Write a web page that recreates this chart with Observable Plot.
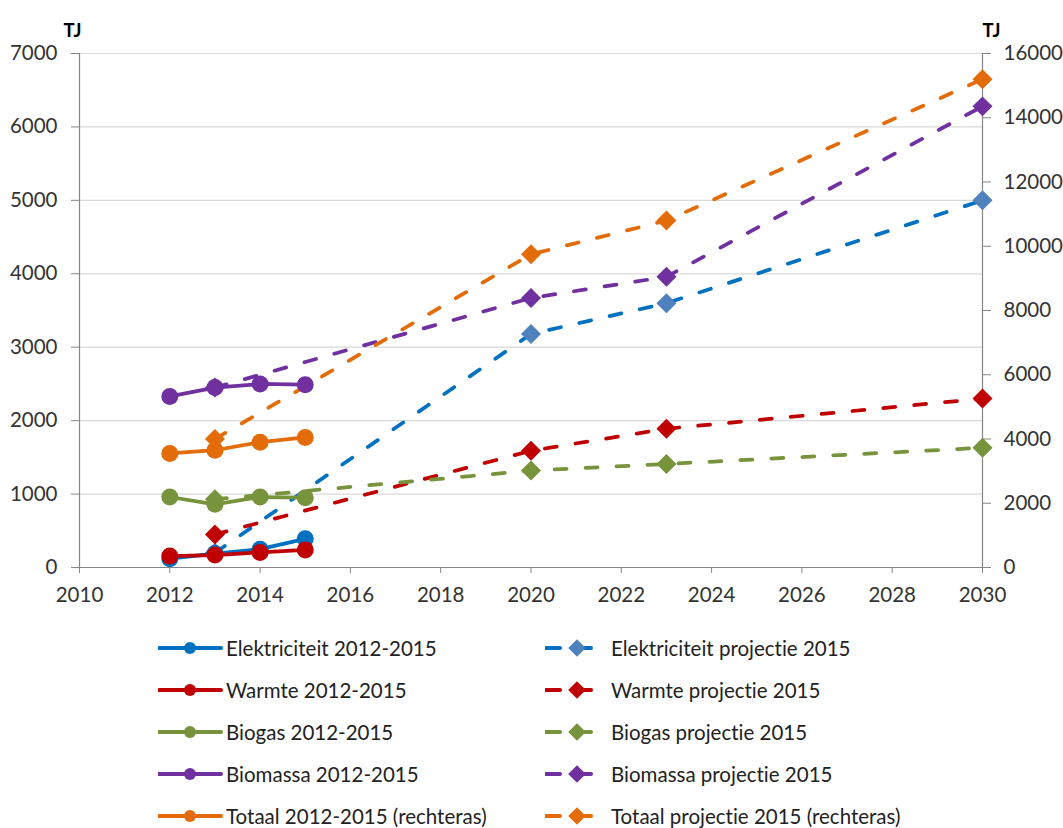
<!DOCTYPE html>
<html>
<head>
<meta charset="utf-8">
<script src="https://cdn.jsdelivr.net/npm/d3@7"></script>
<script src="https://cdn.jsdelivr.net/npm/@observablehq/plot@0.6"></script>
<style>
  body { margin: 0; background: #fff; font-family: Lato, "Open Sans", sans-serif; }
  #wrap { position: relative; width: 1063px; height: 828px; overflow: hidden;
          font-variant-ligatures: none; font-feature-settings: "liga" 0, "clig" 0, "dlig" 0; }
  #wrap svg.chart { position: absolute; left: 0; top: 0; }
  .leg { position: absolute; display: flex; align-items: center; height: 42px;
         font-size: 20.5px; color: #222; white-space: nowrap; }
  .leg svg { display: block; flex: none; }
</style>
</head>
<body>
<div id="wrap"></div>
<script>
// Realised values 2012–2015 (TJ)
const years = [2012, 2013, 2014, 2015];
const elektriciteit = [120, 190, 250, 390];
const warmte = [155, 170, 205, 240];
const biogas = [960, 860, 960, 950];
const biomassa = [2330, 2450, 2500, 2490];
const totaal = [3550, 3650, 3900, 4050];          // right-hand axis

// Projection 2015 (TJ)
const projYears = [2013, 2020, 2023, 2030];
const elektriciteitProj = [200, 3180, 3600, 5000];
const warmteProj = [450, 1590, 1890, 2300];
const biogasProj = [930, 1320, 1410, 1630];
const biomassaProj = [2450, 3670, 3960, 6280];
const totaalProj = [4000, 9750, 10800, 15200];    // right-hand axis

// Axes
const xTicks = [2010, 2012, 2014, 2016, 2018, 2020, 2022, 2024, 2026, 2028, 2030];
const leftTicks = [0, 1000, 2000, 3000, 4000, 5000, 6000, 7000];
const rightTicks = [0, 2000, 4000, 6000, 8000, 10000, 12000, 14000, 16000];
const leftMax = 7000, rightMax = 16000;
const K = leftMax / rightMax;            // right-axis units -> left-axis units
const toLeft = v => v * K;

const actualSeries = [
  {label: "Elektriciteit 2012-2015", values: elektriciteit, color: "#0070C0", right: false},
  {label: "Warmte 2012-2015", values: warmte, color: "#C00000", right: false},
  {label: "Biogas 2012-2015", values: biogas, color: "#77933C", right: false},
  {label: "Biomassa 2012-2015", values: biomassa, color: "#7030A0", right: false},
  {label: "Totaal 2012-2015 (rechteras)", values: totaal, color: "#E36C09", right: true}
];
const projSeries = [
  {label: "Elektriciteit projectie 2015", values: elektriciteitProj, color: "#0070C0", marker: "#4F81BD", right: false},
  {label: "Warmte projectie 2015", values: warmteProj, color: "#C00000", marker: "#C00000", right: false},
  {label: "Biogas projectie 2015", values: biogasProj, color: "#77933C", marker: "#77933C", right: false},
  {label: "Biomassa projectie 2015", values: biomassaProj, color: "#7030A0", marker: "#7030A0", right: false},
  {label: "Totaal projectie 2015 (rechteras)", values: totaalProj, color: "#E36C09", marker: "#E36C09", right: true}
];

const rows = (xs, s) => xs.map((x, i) => ({x, y: s.right ? toLeft(s.values[i]) : s.values[i]}));

const axisStyle = {fontSize: 20.5, stroke: "#868686", fill: "#333", label: null};
const marks = [
  Plot.gridY(leftTicks.filter(v => v > 0), {stroke: "#d9d9d9", strokeOpacity: 1, strokeWidth: 1.2}),
  Plot.ruleX([xTicks[0], xTicks[xTicks.length - 1]], {stroke: "#868686", strokeWidth: 1.2}),
  Plot.ruleY([0], {stroke: "#868686", strokeWidth: 1.2}),
  Plot.axisX(xTicks, {...axisStyle, tickSize: 6, tickPadding: 14, tickFormat: d => String(d)}),
  Plot.axisY(leftTicks, {...axisStyle, anchor: "left", tickSize: 8, tickPadding: 14, tickFormat: d => String(d)}),
  Plot.axisY(rightTicks.map(toLeft), {...axisStyle, anchor: "right", tickSize: 8, tickPadding: 13,
                         tickFormat: d => String(Math.round(d / K))}),
  Plot.text(["TJ"], {text: d => d, frameAnchor: "top-left", dx: -16, dy: -30, textAnchor: "start",
                     fontWeight: "bold", fontSize: 18.5, fill: "#000"}),
  Plot.text(["TJ"], {text: d => d, frameAnchor: "top-right", dx: 0, dy: -30, textAnchor: "start",
                     fontWeight: "bold", fontSize: 18.5, fill: "#000"})
];

// Projections underneath, dashed with diamond markers
for (const s of projSeries) {
  const data = rows(projYears, s);
  marks.push(Plot.line(data, {x: "x", y: "y", stroke: s.color, strokeWidth: 3.75,
                              strokeDasharray: "12,19", strokeLinecap: "round"}));
  marks.push(Plot.dot(data, {x: "x", y: "y", symbol: "diamond2", r: 9, fill: s.marker, stroke: "none"}));
}
// Realised series on top, solid with circle markers
for (const s of actualSeries) {
  const data = rows(years, s);
  marks.push(Plot.line(data, {x: "x", y: "y", stroke: s.color, strokeWidth: 3.75, strokeLinecap: "round"}));
  marks.push(Plot.dot(data, {x: "x", y: "y", r: 8.5, fill: s.color, stroke: "none"}));
}

const chart = Plot.plot({
  width: 1063,
  height: 615,
  marginTop: 53,
  marginBottom: 48,
  marginLeft: 79,
  marginRight: 81,
  x: {domain: [xTicks[0], xTicks[xTicks.length - 1]], label: null},
  y: {domain: [0, leftMax], label: null},
  style: {fontFamily: "Lato, 'Open Sans', sans-serif", background: "#fff", overflow: "visible"},
  marks
});
chart.classList.add("chart");
const wrap = document.getElementById("wrap");
wrap.appendChild(chart);

// Legend: two columns, five rows
const NS = "http://www.w3.org/2000/svg";
function el(tag, attrs) {
  const e = document.createElementNS(NS, tag);
  for (const k in attrs) e.setAttribute(k, attrs[k]);
  return e;
}
const rowTop = 627, rowStep = 42.1;
actualSeries.forEach((s, i) => {
  const item = document.createElement("div");
  item.className = "leg";
  item.style.left = "158px";
  item.style.top = (rowTop + i * rowStep) + "px";
  const sw = el("svg", {width: 68, height: 20});
  sw.appendChild(el("line", {x1: 1, x2: 63, y1: 10, y2: 10, stroke: s.color, "stroke-width": 4, "stroke-linecap": "round"}));
  sw.appendChild(el("circle", {cx: 32, cy: 10, r: 6, fill: s.color}));
  item.appendChild(sw);
  const t = document.createElement("span");
  t.textContent = s.label;
  item.appendChild(t);
  wrap.appendChild(item);
});
projSeries.forEach((s, i) => {
  const item = document.createElement("div");
  item.className = "leg";
  item.style.left = "545px";
  item.style.top = (rowTop + i * rowStep) + "px";
  const sw = el("svg", {width: 66, height: 20});
  sw.appendChild(el("line", {x1: 1, x2: 15, y1: 10, y2: 10, stroke: s.color, "stroke-width": 4, "stroke-linecap": "round"}));
  sw.appendChild(el("line", {x1: 39, x2: 46, y1: 10, y2: 10, stroke: s.color, "stroke-width": 4, "stroke-linecap": "round"}));
  sw.appendChild(el("path", {d: "M32,1.2L40.8,10L32,18.8L23.2,10Z", fill: s.marker}));
  item.appendChild(sw);
  const t = document.createElement("span");
  t.textContent = s.label;
  item.appendChild(t);
  wrap.appendChild(item);
});
</script>
</body>
</html>
